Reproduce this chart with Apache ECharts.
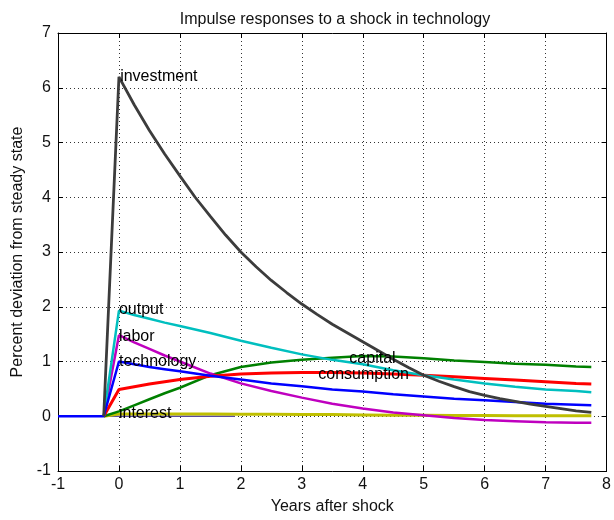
<!DOCTYPE html>
<html>
<head>
<meta charset="utf-8">
<script src="https://cdn.jsdelivr.net/npm/echarts@6/dist/echarts.min.js"></script>
<style>
html,body{margin:0;padding:0;background:#fff;}
#chart{width:614px;height:520px;}
</style>
</head>
<body>
<div id="chart"></div>
<script>
// Data (years after shock, percent deviation from steady state)
const years       = [-0.25, 0, 0.25, 0.5, 0.75, 1, 1.5, 2, 2.5, 3, 3.5, 4, 4.5, 5, 5.5, 6, 6.5, 7, 7.5, 7.75];
const output      = [0, 1.93, 1.85, 1.78, 1.71, 1.65, 1.52, 1.38, 1.25, 1.13, 1.03, 0.95, 0.84, 0.75, 0.67, 0.6, 0.54, 0.49, 0.46, 0.44];
const labor       = [0, 1.48, 1.35, 1.23, 1.11, 1.0, 0.78, 0.6, 0.46, 0.34, 0.23, 0.14, 0.07, 0.02, -0.03, -0.07, -0.09, -0.11, -0.12, -0.12];
const technology  = [0, 1.0, 0.95, 0.9, 0.86, 0.82, 0.74, 0.67, 0.6, 0.55, 0.49, 0.45, 0.4, 0.36, 0.32, 0.29, 0.26, 0.23, 0.21, 0.2];
const capital     = [0, 0.09, 0.2, 0.31, 0.42, 0.52, 0.75, 0.9, 0.98, 1.03, 1.07, 1.1, 1.09, 1.06, 1.02, 0.99, 0.96, 0.94, 0.91, 0.9];
const consumption = [0, 0.49, 0.54, 0.59, 0.63, 0.67, 0.73, 0.77, 0.79, 0.8, 0.8, 0.79, 0.77, 0.75, 0.72, 0.69, 0.66, 0.63, 0.6, 0.59];
const interest    = [0, 0.04, 0.04, 0.04, 0.04, 0.04, 0.04, 0.035, 0.035, 0.03, 0.03, 0.025, 0.02, 0.02, 0.015, 0.015, 0.01, 0.01, 0.01, 0.01];

// investment read at quarterly resolution
const quarters    = [-0.25, 0, 0.25, 0.5, 0.75, 1, 1.25, 1.5, 1.75, 2, 2.25, 2.5, 2.75, 3, 3.25, 3.5, 3.75, 4, 4.25, 4.5, 4.75, 5, 5.25, 5.5, 5.75, 6, 6.25, 6.5, 6.75, 7, 7.25, 7.5, 7.75];
const investment  = [0, 6.2, 5.69, 5.22, 4.79, 4.39, 4.0, 3.65, 3.31, 3.0, 2.73, 2.48, 2.26, 2.05, 1.86, 1.68, 1.52, 1.36, 1.2, 1.04, 0.89, 0.75, 0.64, 0.54, 0.45, 0.38, 0.32, 0.27, 0.22, 0.18, 0.14, 0.1, 0.07];

const preShockYear = -1;          // steady state before the shock
const zeroLineYears = [-0.25, 1.9];
const zeroLineValues = [0, 0];

const xTicks = [-1, 0, 1, 2, 3, 4, 5, 6, 7, 8];
const yTicks = [-1, 0, 1, 2, 3, 4, 5, 6, 7];

// label anchors (data coordinates)
const seriesLabels = [
  {name: 'investment',  at: [0.02, 6.2]},
  {name: 'output',      at: [0.0, 1.94]},
  {name: 'labor',       at: [0.0, 1.45]},
  {name: 'technology',  at: [0.0, 1.0]},
  {name: 'interest',    at: [0.0, 0.05]},
  {name: 'capital',     at: [3.78, 1.05]},
  {name: 'consumption', at: [3.27, 0.76]}
];

const FONT = 'Liberation Sans';
const pairs = (xs, ys) => xs.map((x, i) => [x, ys[i]]);

function line(name, data, color, width, z) {
  return {
    name: name, type: 'line', data: data, showSymbol: false, symbol: 'none',
    lineStyle: {color: color, width: width}, itemStyle: {color: color},
    z: z, animation: false, silent: true
  };
}

const series = [
  line('zero', pairs(zeroLineYears, zeroLineValues), '#5a4aa0', 1.5, 2),
  line('interest', pairs(years, interest), '#bfbf00', 3, 3),
  line('capital', pairs(years, capital), '#008000', 2.5, 4),
  line('labor', pairs(years, labor), '#bf00bf', 2.5, 5),
  line('consumption', pairs(years, consumption), '#ff0000', 3, 6),
  line('output', pairs(years, output), '#00bfbf', 2.5, 7),
  line('technology', [[preShockYear, 0]].concat(pairs(years, technology)), '#0000ff', 2.5, 8),
  line('investment', pairs(quarters, investment), '#3c3c3c', 2.8, 9)
];

series.push({
  type: 'scatter', name: 'labels', symbolSize: 0, z: 20, silent: true, animation: false,
  data: seriesLabels.map(l => ({value: l.at, name: l.name})),
  label: {
    show: true, position: 'right', distance: 0,
    formatter: p => p.name, color: '#000', fontSize: 16, fontFamily: FONT, opacity: 1
  },
  itemStyle: {opacity: 1}
});

const gridLine = {show: true, lineStyle: {color: '#333', type: [1, 3], width: 1}};
const axisLineStyle = {show: true, onZero: false, lineStyle: {color: '#000', width: 1}};

const option = {
  backgroundColor: '#fff',
  animation: false,
  title: {
    text: 'Impulse responses to a shock in technology',
    left: 330, top: 7, textAlign: 'center',
    textStyle: {fontSize: 16, fontWeight: 'normal', color: '#111', fontFamily: FONT}
  },
  grid: {left: 58, right: 1, top: 33, bottom: 46, show: false},
  xAxis: [
    {
      type: 'value', min: xTicks[0], max: xTicks[xTicks.length - 1], interval: 1,
      position: 'bottom',
      name: 'Years after shock', nameLocation: 'middle', nameGap: 28,
      nameTextStyle: {fontSize: 16, color: '#111', fontFamily: FONT},
      axisLine: axisLineStyle,
      axisTick: {show: true, inside: true, length: 5, lineStyle: {color: '#000'}},
      axisLabel: {color: '#111', fontSize: 16, fontFamily: FONT, margin: 6},
      splitLine: gridLine
    },
    {
      type: 'value', min: xTicks[0], max: xTicks[xTicks.length - 1], interval: 1,
      position: 'top',
      axisLine: axisLineStyle,
      axisTick: {show: true, inside: true, length: 5, lineStyle: {color: '#000'}},
      axisLabel: {show: false}, splitLine: {show: false}
    }
  ],
  yAxis: [
    {
      type: 'value', min: yTicks[0], max: yTicks[yTicks.length - 1], interval: 1,
      position: 'left',
      name: 'Percent deviation from steady state', nameLocation: 'middle', nameGap: 32,
      nameTextStyle: {fontSize: 16, color: '#111', fontFamily: FONT},
      axisLine: axisLineStyle,
      axisTick: {show: true, inside: true, length: 5, lineStyle: {color: '#000'}},
      axisLabel: {color: '#111', fontSize: 16, fontFamily: FONT, margin: 7},
      splitLine: gridLine
    },
    {
      type: 'value', min: yTicks[0], max: yTicks[yTicks.length - 1], interval: 1,
      position: 'right',
      axisLine: axisLineStyle,
      axisTick: {show: true, inside: true, length: 5, lineStyle: {color: '#000'}},
      axisLabel: {show: false}, splitLine: {show: false}
    }
  ],
  series: series
};

const chart = echarts.init(document.getElementById('chart'), null, {renderer: 'canvas'});
chart.setOption(option);
</script>
</body>
</html>
